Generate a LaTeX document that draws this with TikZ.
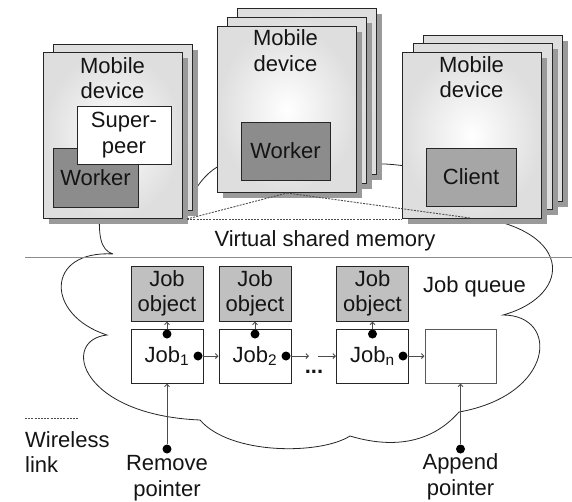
\documentclass[tikz,border=0pt]{standalone}
\usepackage{fontspec}
\setmainfont{Liberation Sans}
\usetikzlibrary{arrows.meta,shadows}
\definecolor{workerc}{HTML}{8C8C8C}
\definecolor{clientc}{HTML}{A6A6A6}
\definecolor{jobobjc}{HTML}{C0C0C0}
\definecolor{shadowc}{HTML}{9A9A9A}
\definecolor{sheetout}{HTML}{DEDEDE}
\definecolor{linec}{HTML}{262626}
\definecolor{txtc}{HTML}{141414}
\begin{document}
\begin{tikzpicture}[x=1pt,y=-1pt,
  font=\fontsize{22}{25.5}\selectfont,
  sheet/.style={draw=linec, line width=1pt, shading=radial, inner color=white,
    outer color=sheetout, minimum width=139pt, minimum height=166pt,
    anchor=north west, inner sep=0pt,
    drop shadow={shadow xshift=5pt, shadow yshift=-5pt, fill=shadowc, opacity=1}},
  txt/.style={align=center, inner sep=0pt, text=txtc},
  box/.style={draw=linec, line width=1pt, inner sep=0pt, align=center, text=txtc},
  jbox/.style={box, minimum width=72pt, minimum height=54pt},
  dot/.style={circle, fill=black, inner sep=0pt, minimum size=9pt},
  lnk/.style={draw=black!70, line width=0.9pt, -{Straight Barb[length=2.5pt,width=5pt]}},
  wless/.style={draw=black!70, line width=0.9pt, dash pattern=on 2pt off 1.2pt},
  cloudline/.style={draw=black!85, line width=0.8pt}
]
\useasboundingbox (0,0) rectangle (572,501);

% cloud (virtual shared memory)
\draw[cloudline] (113,254) .. controls (45,250) and (45,315) .. (107,335)
  .. controls (60,340) and (80,415) .. (200,420)
  .. controls (230,455) and (320,455) .. (350,436)
  .. controls (390,448) and (430,445) .. (459,412)
  .. controls (555,395) and (560,315) .. (503,315)
  .. controls (575,295) and (575,225) .. (460,215)
  .. controls (440,172) and (420,166) .. (385,164)
  -- (230,162)
  .. controls (215,165) and (200,178) .. (190,200)
  -- (100,205)
  .. controls (98,235) and (100,250) .. (113,254);

% separator line
\coordinate (sepL) at (25,257);
\coordinate (sepR) at (572,257);
\draw[black!45, line width=0.7pt] (sepL) -- (sepR);

% left device
\node[sheet] (L2) at (53,44) {};
\node[sheet] (L1) at (43,52) {};
\node[txt] (Ltxt) at (112.5,78) {Mobile\\device};
\node[box, fill=workerc, minimum width=85pt, minimum height=59pt] (Lw) at (95.5,177.5) {Worker};
\node[box, fill=white, minimum width=94pt, minimum height=58pt] (Ls) at (124,135) {Super-\\peer};

% middle device
\node[sheet] (M3) at (237,8) {};
\node[sheet] (M2) at (227,17) {};
\node[sheet] (M1) at (217,26) {};
\node[txt] (Mtxt) at (285.5,50.5) {Mobile\\device};
\node[box, fill=workerc, minimum width=89pt, minimum height=58pt] (Mw) at (285.5,151) {Worker};

% right device
\node[sheet] (R3) at (423,35) {};
\node[sheet] (R2) at (413,43) {};
\node[sheet] (R1) at (402,52) {};
\node[txt] (Rtxt) at (471.5,77) {Mobile\\device};
\node[box, fill=clientc, minimum width=90pt, minimum height=58pt] (Rc) at (471,177) {Client};

% wireless links
\coordinate (wl) at (187,219);
\coordinate (wm) at (M1.south);
\coordinate (wr) at (470,218);
\draw[wless] (wl) -- (R1.west |- wl);
\draw[wless] (wl) -- (wm);
\draw[wless] (wm) -- (wr);

\node[txt] (vsm) at (325,241) {Virtual shared memory};
\node[txt] (jq) at (474.5,287) {Job queue};

% job queue
\node[jbox, fill=jobobjc, minimum height=55pt] (JO1) at (167,293.5) {Job\\object};
\node[jbox] (J1) at (167,356) {Job\textsubscript{1}};
\node[jbox, fill=jobobjc, minimum height=55pt] (JO2) at (255,293.5) {Job\\object};
\node[jbox] (J2) at (255,356) {Job\textsubscript{2}};
\node[jbox, fill=jobobjc, minimum height=55pt] (JOn) at (372.5,293.5) {Job\\object};
\node[jbox] (Jn) at (372.5,356) {Job\textsubscript{n}};
\node[jbox, draw=black!65, minimum width=71pt] (E) at (460.5,356) {};
\node[txt] (ell) at (314,372) {\textbf{...}};

\node[dot] (t1) at (167,334) {};
\node[dot] (t2) at (255,334) {};
\node[dot] (tn) at (372.5,334) {};
\node[dot] (r1) at (198,356) {};
\node[dot] (r2) at (286,356) {};
\node[dot] (rn) at (403,356) {};
\node[dot] (rm) at (167,449) {};
\node[dot] (ap) at (460.5,449) {};

\draw[lnk] (t1) -- (JO1.south);
\draw[lnk] (t2) -- (JO2.south);
\draw[lnk] (tn) -- (JOn.south);
\draw[lnk] (r1) -- (J2.west);
\coordinate (g1) at (309,356);
\coordinate (g2) at (318,356);
\draw[lnk] (r2) -- (g1);
\draw[lnk] (g2) -- (Jn.west);
\draw[lnk] (rn) -- (E.west);
\draw[lnk] (rm) -- (J1.south);
\draw[lnk] (ap) -- (E.south);

\node[txt] (rmt) at (167,478) {Remove\\pointer};
\node[txt] (apt) at (460.5,477) {Append\\pointer};

% legend
\coordinate (lg1) at (25,418);
\coordinate (lg2) at (78,418);
\draw[wless] (lg1) -- (lg2);
\node[txt, align=left, anchor=north west] (wlt) at (25,431) {Wireless\\link};
\end{tikzpicture}
\end{document}
